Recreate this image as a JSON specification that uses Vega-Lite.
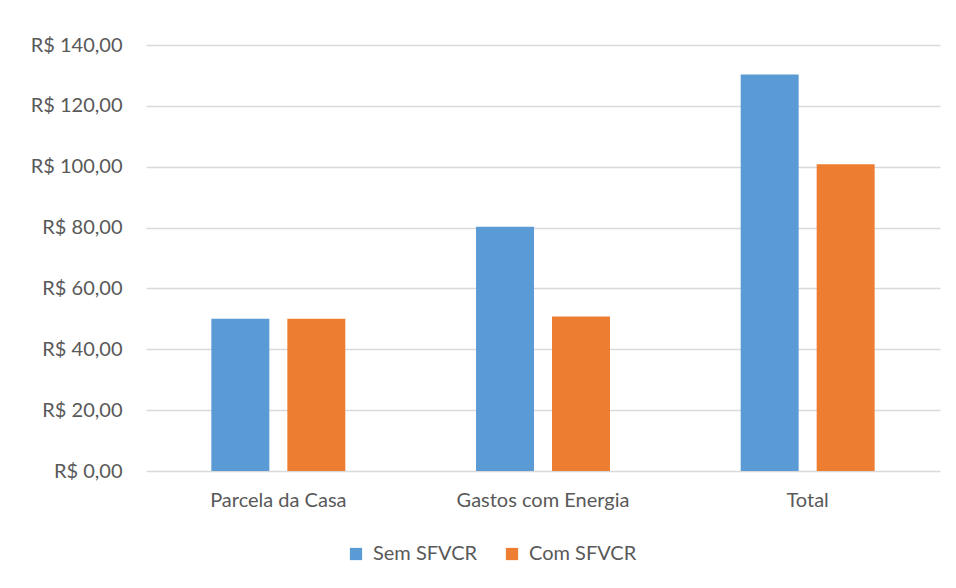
{
  "$schema": "https://vega.github.io/schema/vega-lite/v6.json",
  "autosize": {"type": "none"},
  "padding": {"left": 146, "top": 45, "right": 16, "bottom": 117},
  "width": 794,
  "height": 426,
  "background": "white",
  "data": {
    "values": [
      {"categoria": "Parcela da Casa", "serie": "Sem SFVCR", "valor": 50.0},
      {"categoria": "Parcela da Casa", "serie": "Com SFVCR", "valor": 50.0},
      {"categoria": "Gastos com Energia", "serie": "Sem SFVCR", "valor": 80.3},
      {"categoria": "Gastos com Energia", "serie": "Com SFVCR", "valor": 50.8},
      {"categoria": "Total", "serie": "Sem SFVCR", "valor": 130.3},
      {"categoria": "Total", "serie": "Com SFVCR", "valor": 100.8}
    ]
  },
  "mark": {"type": "bar"},
  "encoding": {
    "x": {
      "field": "categoria",
      "type": "nominal",
      "sort": ["Parcela da Casa", "Gastos com Energia", "Total"],
      "scale": {"paddingInner": 0, "paddingOuter": 0},
      "axis": {
        "title": null,
        "labelAngle": 0,
        "domain": false,
        "ticks": false,
        "labelPadding": 19,
        "labelFont": "Lato",
        "labelFontSize": 20,
        "labelColor": "#595959"
      }
    },
    "xOffset": {
      "field": "serie",
      "type": "nominal",
      "sort": ["Sem SFVCR", "Com SFVCR"],
      "scale": {"paddingInner": 0.237, "paddingOuter": 0.86}
    },
    "y": {
      "field": "valor",
      "type": "quantitative",
      "scale": {"domain": [0, 140], "nice": false},
      "axis": {
        "title": null,
        "values": [0, 20, 40, 60, 80, 100, 120, 140],
        "labelExpr": "'R$ ' + replace(format(datum.value, '.2f'), '.', ',')",
        "domain": false,
        "ticks": false,
        "labelPadding": 24,
        "labelFont": "Lato",
        "labelFontSize": 20,
        "labelColor": "#595959",
        "grid": true,
        "gridColor": "#d9d9d9",
        "gridWidth": 1.5
      }
    },
    "color": {
      "field": "serie",
      "type": "nominal",
      "sort": ["Sem SFVCR", "Com SFVCR"],
      "scale": {"domain": ["Sem SFVCR", "Com SFVCR"], "range": ["#5b9bd5", "#ed7d31"]},
      "legend": {
        "title": null,
        "orient": "none",
        "direction": "horizontal",
        "legendX": 200,
        "legendY": 499,
        "symbolType": "square",
        "symbolSize": 150,
        "symbolStrokeWidth": 0,
        "labelFont": "Lato",
        "labelFontSize": 20,
        "labelColor": "#595959",
        "labelOffset": 7,
        "columnPadding": 24
      }
    }
  },
  "config": {
    "view": {"stroke": null}
  }
}
